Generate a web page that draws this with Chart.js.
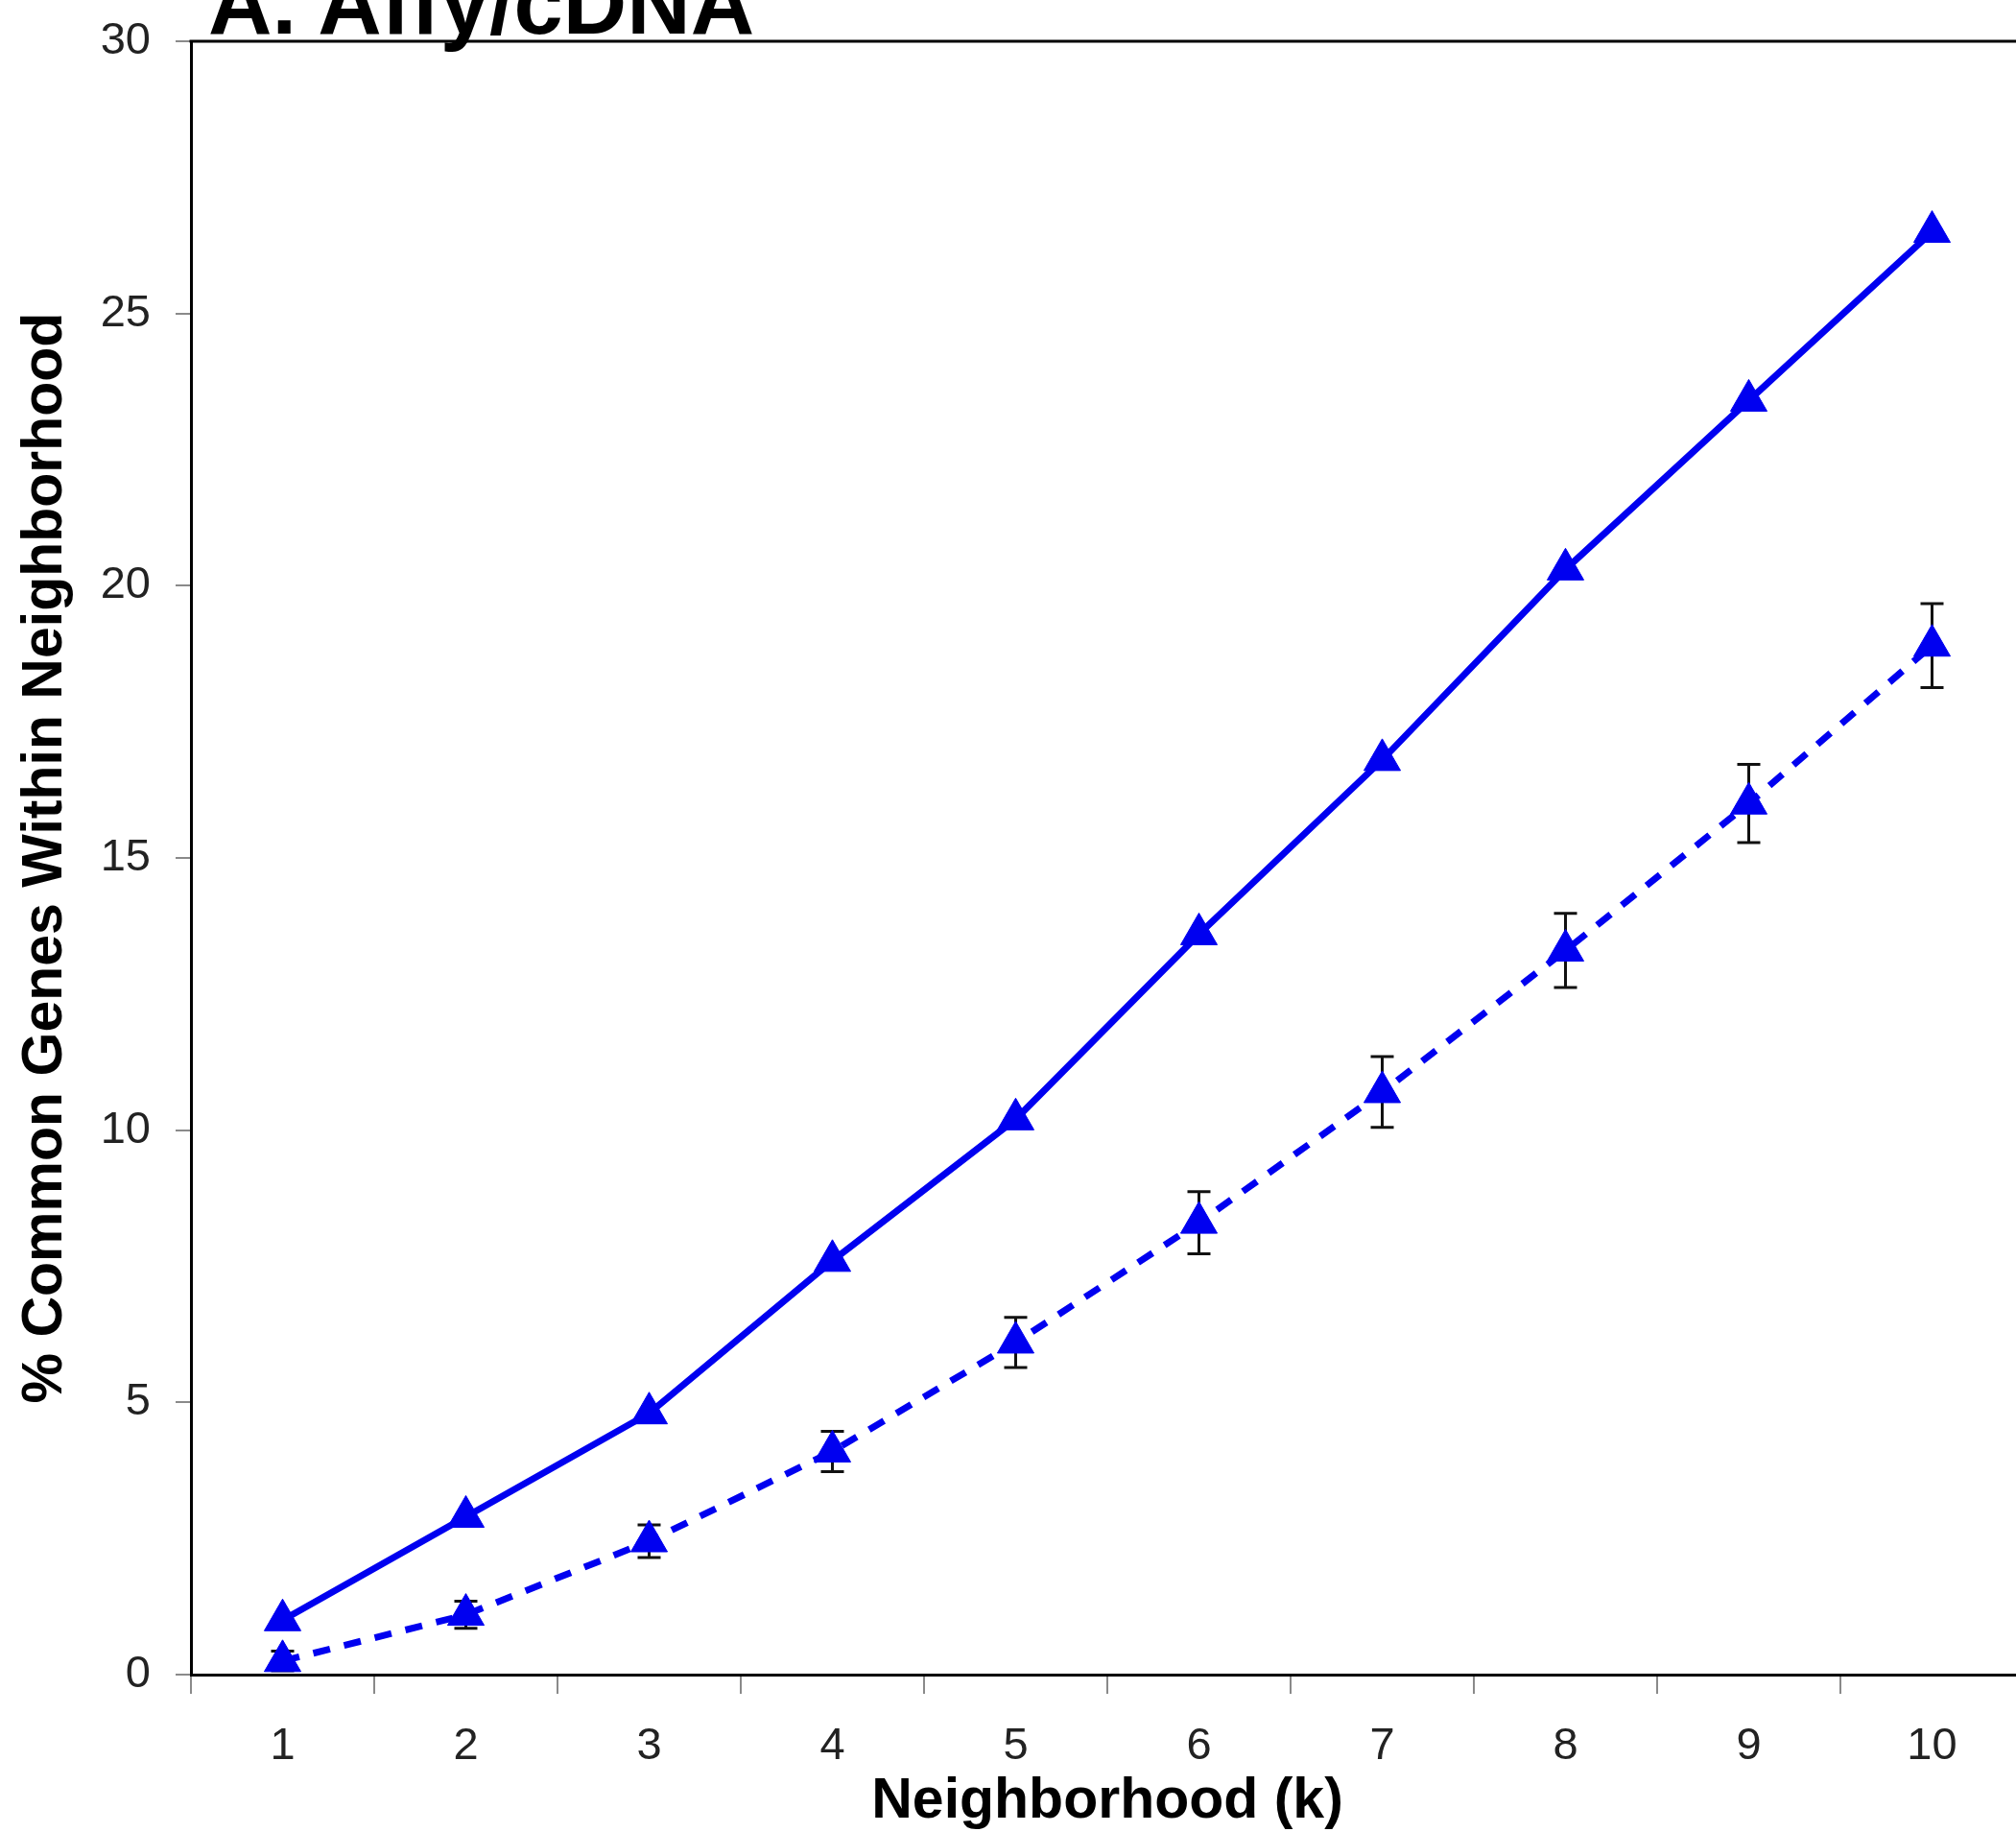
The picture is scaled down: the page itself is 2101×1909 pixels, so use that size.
<!DOCTYPE html>
<html><head><meta charset="utf-8">
<script src="https://cdn.jsdelivr.net/npm/chart.js@4.4.1/dist/chart.umd.min.js"></script>
<style>
html,body{margin:0;padding:0;background:#fff;overflow:hidden;width:2101px;height:1909px;}
#wrap{position:relative;width:2140px;height:1909px;overflow:hidden;background:#fff;}
#c{position:absolute;left:0;top:0;}
#title{position:absolute;left:217px;top:-43px;font:bold 92px "Liberation Sans",Arial,sans-serif;line-height:1;color:#000;white-space:nowrap;z-index:2;}
</style></head><body>
<div id="wrap"><canvas id="c" width="2120" height="1909" style="width:2120px;height:1909px"></canvas><div id="title">A. Affy/cDNA</div></div>
<script>
const categories = ['1','2','3','4','5','6','7','8','9','10'];
const solidValues = [1.0, 2.9, 4.8, 7.6, 10.2, 13.6, 16.8, 20.3, 23.4, 26.5];
const dashedValues = [0.25, 1.1, 2.45, 4.1, 6.1, 8.3, 10.7, 13.3, 16.0, 18.9];
const dashedErrors = [0.18, 0.25, 0.3, 0.37, 0.46, 0.57, 0.65, 0.68, 0.72, 0.77];
const yTickValues = [0, 5, 10, 15, 20, 25, 30];
const xTitle = 'Neighborhood (k)';
const yTitle = '% Common Genes Within Neighborhood';

const BLUE = '#0000f0';
const FONT = '"Liberation Sans", Arial, sans-serif';

const errorBars = {
  id: 'errorBars',
  beforeDatasetsDraw(chart) {
    const ctx = chart.ctx, xs = chart.scales.x, ys = chart.scales.y;
    ctx.save();
    ctx.strokeStyle = '#111';
    ctx.lineWidth = 3;
    dashedValues.forEach((v, i) => {
      const x = xs.getPixelForValue(i);
      const yt = ys.getPixelForValue(v + dashedErrors[i]);
      const yb = ys.getPixelForValue(Math.max(0, v - dashedErrors[i]));
      ctx.beginPath();
      ctx.moveTo(x, yt); ctx.lineTo(x, yb);
      ctx.moveTo(x - 12, yt); ctx.lineTo(x + 12, yt);
      ctx.moveTo(x - 12, yb); ctx.lineTo(x + 12, yb);
      ctx.stroke();
    });
    ctx.restore();
  }
};
const frame = {
  id: 'frame',
  afterDraw(chart) {
    const {ctx, chartArea: a} = chart;
    ctx.save();
    ctx.strokeStyle = '#000';
    ctx.lineWidth = 3;
    ctx.beginPath();
    ctx.moveTo(a.left - 1.5, a.top); ctx.lineTo(a.right, a.top); ctx.lineTo(a.right, a.bottom);
    ctx.stroke();
    ctx.restore();
  }
};

new Chart(document.getElementById('c'), {
  type: 'line',
  data: {
    labels: categories,
    datasets: [
      {
        label: 'Series 1',
        data: solidValues,
        borderColor: BLUE, backgroundColor: BLUE,
        borderWidth: 7, tension: 0, fill: false,
        pointStyle: 'triangle', pointRadius: 22, pointBorderWidth: 1,
        pointBackgroundColor: BLUE, pointBorderColor: BLUE
      },
      {
        label: 'Series 2',
        data: dashedValues,
        borderColor: BLUE, backgroundColor: BLUE,
        borderWidth: 7, borderDash: [18, 15], tension: 0, fill: false,
        pointStyle: 'triangle', pointRadius: 22, pointBorderWidth: 1,
        pointBackgroundColor: BLUE, pointBorderColor: BLUE
      }
    ]
  },
  options: {
    responsive: false,
    maintainAspectRatio: false,
    animation: false,
    devicePixelRatio: 1,
    layout: { autoPadding: false, padding: { left: 0, top: 43, right: 11, bottom: 0 } },
    plugins: { legend: { display: false }, tooltip: { enabled: false }, title: { display: false } },
    scales: {
      x: {
        type: 'category',
        offset: true,
        grid: { offset: true, drawOnChartArea: false, drawTicks: true, tickLength: 20, color: '#8a8a8a', lineWidth: 2 },
        border: { display: true, color: '#000', width: 3 },
        ticks: { color: '#222', font: { family: FONT, size: 47 }, padding: 27, maxRotation: 0, autoSkip: false },
        title: { display: true, text: xTitle, color: '#000', font: { family: FONT, size: 59, weight: 'bold', lineHeight: 1 }, padding: { top: 0, bottom: 2 } },
        afterFit(s) { s.height = 164; s.paddingLeft = 0; s.paddingRight = 0; }
      },
      y: {
        min: 0, max: 30,
        afterBuildTicks(s) { s.ticks = yTickValues.map(v => ({ value: v })); },
        grid: { drawOnChartArea: false, drawTicks: true, tickLength: 16, color: '#8a8a8a', lineWidth: 2 },
        border: { display: true, color: '#000', width: 3 },
        ticks: { color: '#222', font: { family: FONT, size: 47 }, padding: 26 },
        title: { display: true, text: yTitle, color: '#000', font: { family: FONT, size: 59, weight: 'bold', lineHeight: 1 }, padding: { top: 18, bottom: 0 } },
        afterFit(s) { s.width = 199; s.paddingTop = 0; s.paddingBottom = 0; }
      }
    }
  },
  plugins: [errorBars, frame]
});
</script>
</body></html>
